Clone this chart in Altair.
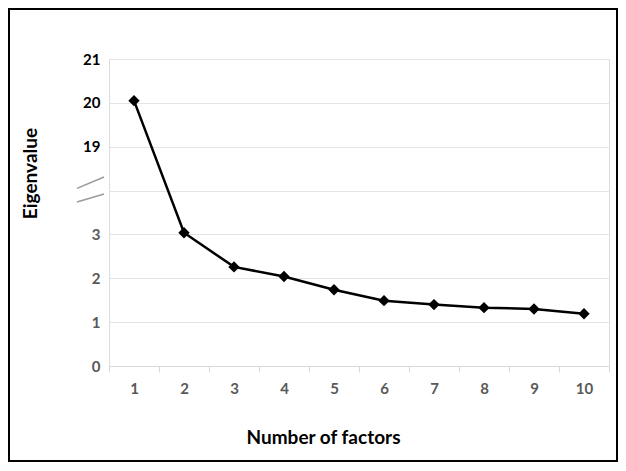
import altair as alt
import pandas as pd

# Data
factors = [1, 2, 3, 4, 5, 6, 7, 8, 9, 10]
eigenvalues = [20.05, 3.04, 2.26, 2.04, 1.74, 1.49, 1.40, 1.33, 1.30, 1.19]

# Broken-axis tick labels (positions 0..7 on the drawn scale)
tick_positions = [0, 1, 2, 3, 4, 5, 6, 7]
tick_labels = ["0", "1", "2", "3", "", "19", "20", "21"]

df = pd.DataFrame({"factor": factors, "eig": eigenvalues})

FONT = "Lato"
GRAY = "#595959"
GRID = "#e4e4e4"

label_expr = "{" + ",".join(f"'{p}':'{l}'" for p, l in zip(tick_positions, tick_labels)) + "}[toString(datum.value)]"

base = alt.Chart(df).transform_calculate(
    ypos="datum.eig >= 19 ? datum.eig - 14 : datum.eig"
)

x_enc = alt.X(
    "factor:O",
    scale=alt.Scale(type="band", paddingInner=0, paddingOuter=0),
    axis=alt.Axis(
        title="Number of factors",
        labelAngle=0,
        labelFont=FONT,
        labelFontSize=15,
        labelFontWeight="bold",
        labelColor=GRAY,
        labelPadding=9,
        tickBand="extent",
        tickSize=6,
        tickColor="#d9d9d9",
        domainColor="#d9d9d9",
        grid=False,
        titleFont=FONT,
        titleFontSize=19,
        titleFontWeight="bold",
        titleColor="black",
        titleX=214,
        titleY=71,
        titleBaseline="middle",
        titleAlign="center",
    ),
)

y_enc = alt.Y(
    "ypos:Q",
    scale=alt.Scale(domain=[0, 7], nice=False, zero=True),
    axis=alt.Axis(
        title="Eigenvalue",
        values=tick_positions,
        labelExpr=label_expr,
        labelFont=FONT,
        labelFontSize=15,
        labelFontWeight="bold",
        labelColor={"condition": {"test": "datum.value >= 5", "value": "black"}, "value": GRAY},
        labelPadding=9,
        ticks=False,
        domain=False,
        grid=True,
        gridColor=GRID,
        gridWidth=1,
        titleFont=FONT,
        titleFontSize=19,
        titleFontWeight="bold",
        titleColor="black",
        titleX=-79,
        titleY=114,
        titleAngle=-90,
        titleAlign="center",
        titleBaseline="middle",
    ),
)

line = base.mark_line(color="black", strokeWidth=2.5).encode(x=x_enc, y=y_enc)
pts = base.mark_point(shape="diamond", filled=True, color="black", size=130, opacity=1).encode(x=x_enc, y=y_enc)

# axis-break marks
brk = pd.DataFrame({"y1": [4.05, 3.74], "y2": [4.31, 3.92]})
breaks = alt.Chart(brk).mark_rule(color="#9a9a9a", strokeWidth=1.5).encode(
    x=alt.value(-32), x2=alt.value(-5),
    y=alt.Y("y1:Q", scale=alt.Scale(domain=[0, 7], nice=False)),
    y2="y2:Q",
)

# outer frame
frame = alt.Chart(alt.Data(values=[{"a": 1}])).mark_rect(
    filled=False, stroke="black", strokeWidth=2
).encode(x=alt.value(-100), x2=alt.value(508), y=alt.value(-50), y2=alt.value(402))

chart = alt.layer(line, pts, breaks, frame).properties(
    width=500,
    height=307,
    autosize=alt.AutoSizeParams(type="none"),
    padding={"left": 101, "top": 51, "right": 9, "bottom": 97},
).configure_view(stroke=None).configure(background="white")

chart.save("out.html", embed_options={"renderer": "svg", "actions": False})
